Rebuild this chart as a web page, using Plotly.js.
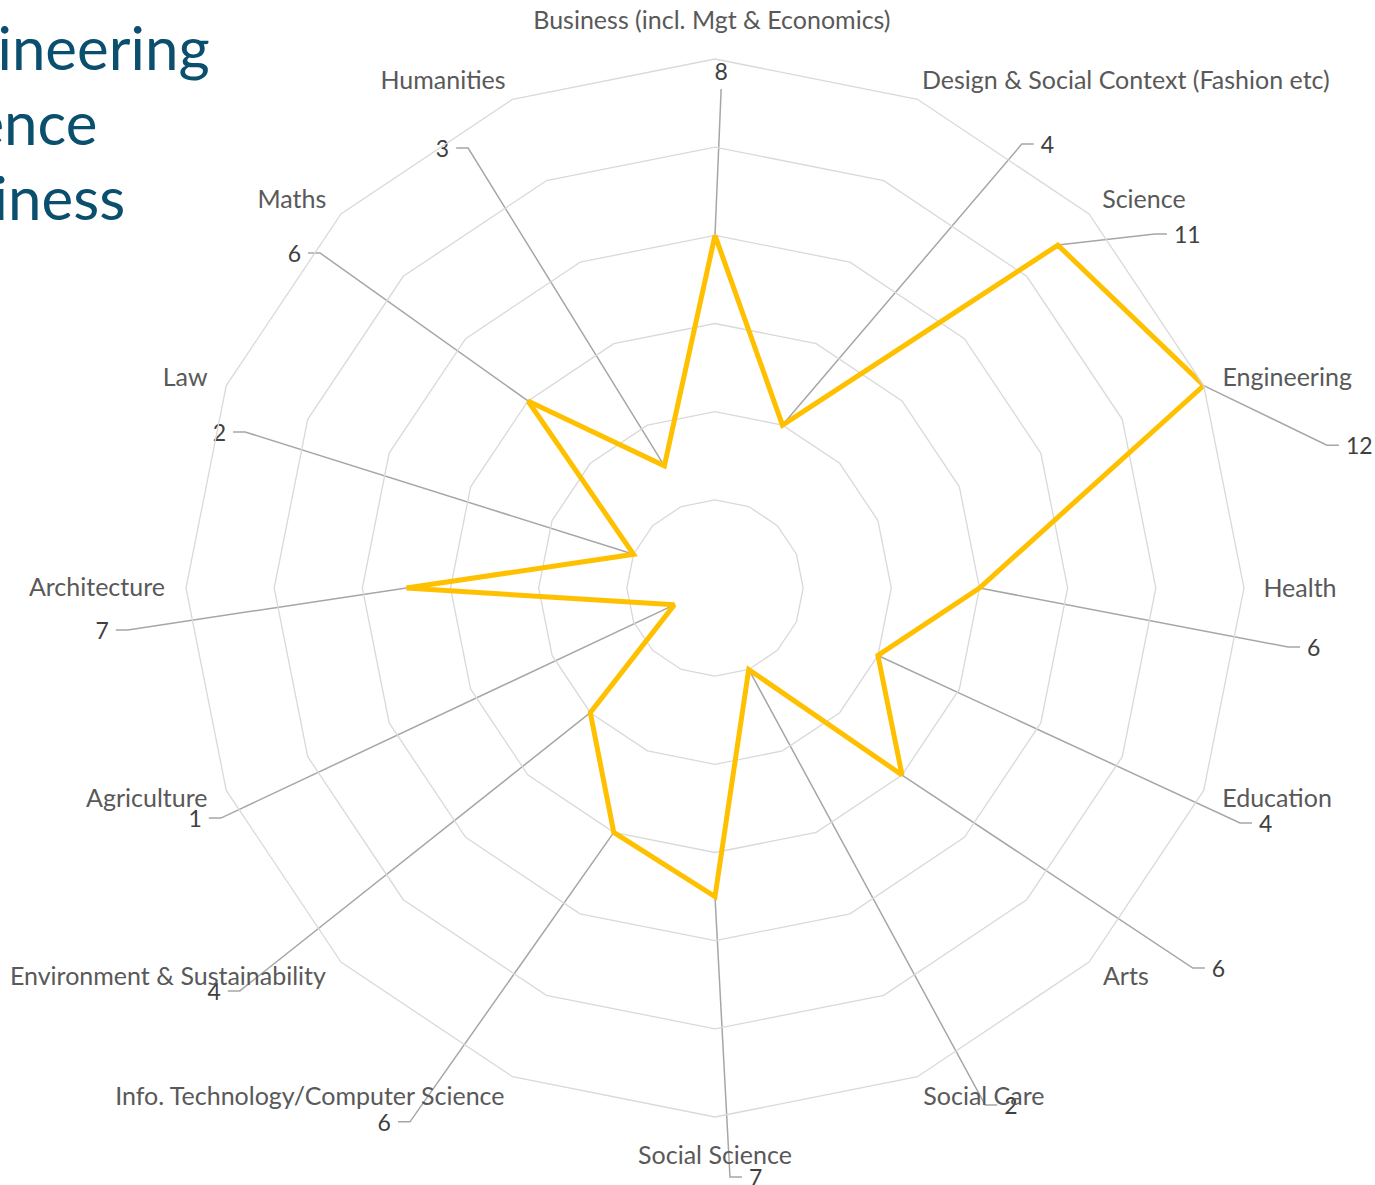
<!DOCTYPE html>
<html>
<head>
<meta charset="utf-8">
<script src="https://cdn.plot.ly/plotly-3.0.1.min.js"></script>
<style>html,body{margin:0;padding:0;background:#fff;}#chart{width:1375px;height:1185px;}</style>
</head>
<body>
<div id="chart"></div>
<script>
// ---- data ----
const categories = [
  "Business (incl. Mgt & Economics)", "Design & Social Context (Fashion etc)", "Science",
  "Engineering", "Health", "Education", "Arts", "Social Care", "Social Science",
  "Info. Technology/Computer Science", "Environment & Sustainability", "Agriculture",
  "Architecture", "Law", "Maths", "Humanities"
];
const values = [8, 4, 11, 12, 6, 4, 6, 2, 7, 6, 4, 1, 7, 2, 6, 3];
const titleLines = ["Engineering", "Science", "Business"];

// ---- label placement (chart units) ----
// leader-line elbows: [x, y, side]  side: +1 right, -1 left, 0 above
const leaderEnds = [
  [0.14, 11.32, 0], [6.96, 10.07, 1], [9.98, 8.03, 1], [13.88, 3.24, 1],
  [13.0, -1.34, 1], [11.91, -5.33, 1], [10.84, -8.62, 1], [6.13, -11.73, 1],
  [0.34, -13.36, 1], [-6.92, -12.11, -1], [-10.78, -9.14, -1], [-11.21, -5.22, -1],
  [-13.32, -0.95, -1], [-10.66, 3.54, -1], [-8.96, 7.60, -1], [-5.60, 9.98, -1]
];
// category label centres
const catLabelPos = [
  [-0.07, 12.89], [9.32, 11.52], [9.73, 8.82], [12.98, 4.79], [13.27, 0.0], [12.75, -4.76],
  [9.32, -8.80], [6.10, -11.52], [0.0, -12.86], [-9.19, -11.52], [-12.41, -8.80],
  [-12.89, -4.76], [-14.02, 0.02], [-12.02, 4.79], [-9.60, 8.82], [-6.17, 11.52]
];

const W = 1375, H = 1185, CX = 715, CY = 588, R = 529, RMAX = 12;
const k = R / RMAX;              // px per unit
const tickStub = 12 / k;         // short horizontal stub of leader line
const textGap = 7 / k;
const textDrop = 3 / k;          // small vertical nudge for text baseline

const n = categories.length;
const traces = [];

// leader lines & value labels (cartesian overlay, same scale as the polar)
const lx = [], ly = [];
const txtR = {x: [], y: [], t: []}, txtL = {x: [], y: [], t: []}, txtT = {x: [], y: [], t: []};
values.forEach((v, i) => {
  const th = i * 2 * Math.PI / n;
  const px = v * Math.sin(th), py = v * Math.cos(th);
  const [ex, ey, side] = leaderEnds[i];
  const sx = ex + side * tickStub;
  lx.push(px, ex, sx, null);
  ly.push(py, ey, ey, null);
  const grp = side > 0 ? txtR : (side < 0 ? txtL : txtT);
  grp.x.push(side === 0 ? ex : sx + side * textGap);
  grp.y.push(side === 0 ? ey + 3 / k : ey - textDrop);
  grp.t.push(String(v));
});
traces.push({
  type: 'scatter', x: lx, y: ly, mode: 'lines', xaxis: 'x', yaxis: 'y',
  line: {color: '#a6a6a6', width: 1.5}, hoverinfo: 'skip', showlegend: false
});
const valFont = {family: 'Lato, sans-serif', size: 23, color: '#404040'};
traces.push({type: 'scatter', mode: 'text', x: txtR.x, y: txtR.y, text: txtR.t,
  textposition: 'middle right', textfont: valFont, cliponaxis: false, showlegend: false, hoverinfo: 'skip'});
traces.push({type: 'scatter', mode: 'text', x: txtL.x, y: txtL.y, text: txtL.t,
  textposition: 'middle left', textfont: valFont, cliponaxis: false, showlegend: false, hoverinfo: 'skip'});
traces.push({type: 'scatter', mode: 'text', x: txtT.x, y: txtT.y, text: txtT.t,
  textposition: 'top center', textfont: valFont, cliponaxis: false, showlegend: false, hoverinfo: 'skip'});

// category labels
traces.push({type: 'scatter', mode: 'text', x: catLabelPos.map(p => p[0]), y: catLabelPos.map(p => p[1] - textDrop),
  text: categories, textposition: 'middle center', cliponaxis: false, showlegend: false, hoverinfo: 'skip',
  textfont: {family: 'Lato, sans-serif', size: 25, color: '#595959'}});

// radar series
traces.push({
  type: 'scatterpolar', r: values.concat([values[0]]), theta: categories.concat([categories[0]]),
  mode: 'lines', line: {color: '#FFC000', width: 5}, showlegend: false, hoverinfo: 'skip'
});

const xd = [(CX - R) / W, (CX + R) / W];
const yd = [(H - CY - R) / H, (H - CY + R) / H];

const annotations = titleLines.map((t, i) => ({
  text: t, xref: 'paper', yref: 'paper', x: [212, 99, 127][i] / W, y: 1 - [47, 122, 197][i] / H,
  xanchor: 'right', yanchor: 'middle', showarrow: false,
  font: {family: 'Lato, sans-serif', size: 60, color: '#0a4f6e'}
}));

const layout = {
  width: W, height: H, margin: {l: 0, r: 0, t: 0, b: 0},
  paper_bgcolor: '#fff', plot_bgcolor: 'rgba(0,0,0,0)', showlegend: false,
  xaxis: {domain: [0, 1], range: [-CX / k, (W - CX) / k], visible: false, fixedrange: true},
  yaxis: {domain: [0, 1], range: [-(H - CY) / k, CY / k], visible: false, fixedrange: true},
  polar: {
    domain: {x: xd, y: yd}, gridshape: 'linear', bgcolor: 'rgba(0,0,0,0)',
    radialaxis: {range: [0, RMAX], dtick: 2, showticklabels: false, ticks: '', showline: false,
      gridcolor: '#d9d9d9', gridwidth: 1.3, angle: 90},
    angularaxis: {type: 'category', categoryarray: categories, direction: 'clockwise', rotation: 90,
      showgrid: false, showline: true, linecolor: '#d9d9d9', linewidth: 1.3,
      ticks: '', showticklabels: false}
  },
  annotations: annotations
};

Plotly.newPlot('chart', traces, layout, {staticPlot: true, displayModeBar: false});
</script>
</body>
</html>
